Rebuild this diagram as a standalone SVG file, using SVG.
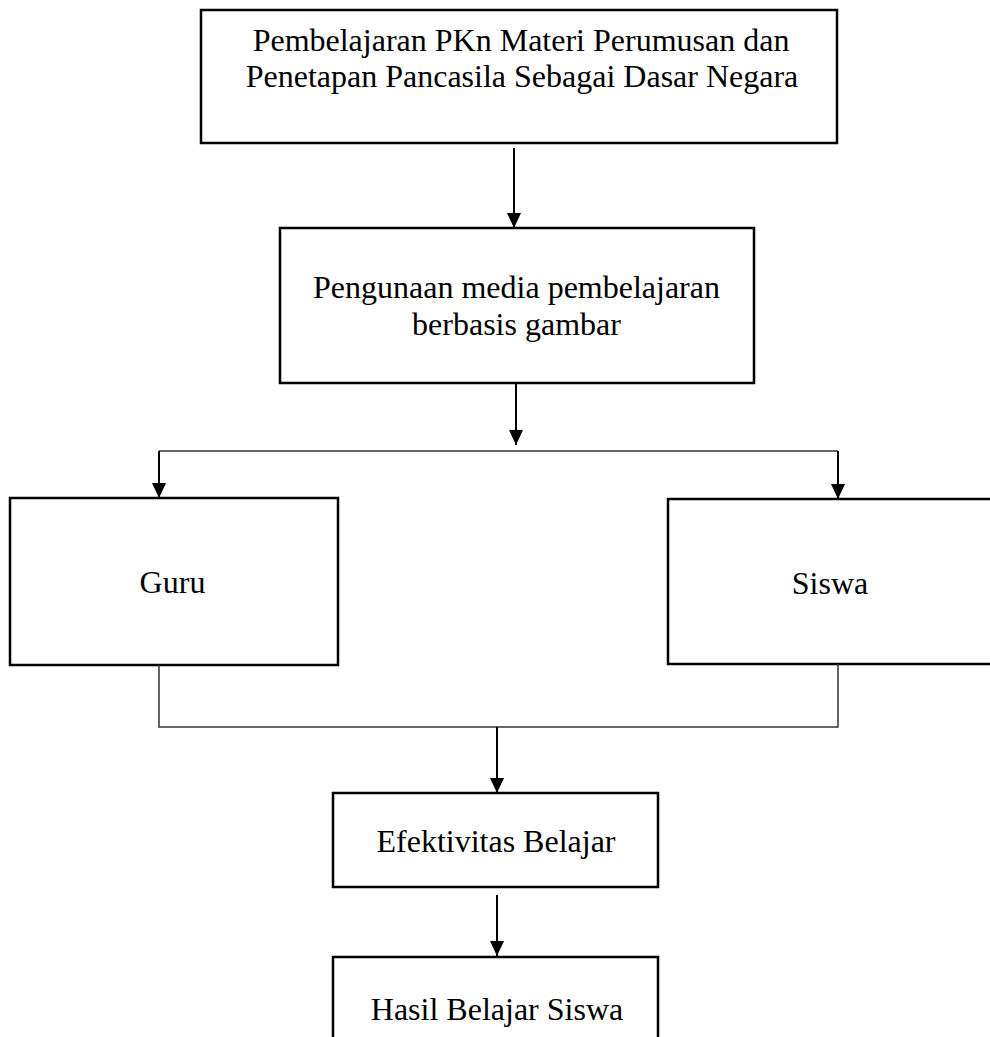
<svg xmlns="http://www.w3.org/2000/svg" width="990" height="1037" viewBox="0 0 990 1037">
  <style>
    .box { fill: #ffffff; stroke: #000000; stroke-width: 2.5; }
    .lbl { font-family: "Liberation Serif", "Times New Roman", serif; font-size: 32px; fill: #000000; text-anchor: middle; }
    .arr { fill: none; stroke: #000000; stroke-width: 2; marker-end: url(#ah); }
    .thin { fill: none; stroke: #333333; stroke-width: 1.5; }
  </style>
  <defs>
    <marker id="ah" markerUnits="userSpaceOnUse" markerWidth="15" markerHeight="14" viewBox="0 0 15 14" refX="15" refY="7" orient="auto">
      <path d="M0,0 L15,7 L0,14 Z" fill="#000000"/>
    </marker>
  </defs>
  <rect width="990" height="1037" fill="#ffffff"/>
  <g id="node-pembelajaran">
    <rect class="box" x="201" y="10" width="636" height="133"/>
    <text class="lbl" x="521" y="51">Pembelajaran PKn Materi Perumusan dan</text>
    <text class="lbl" x="522" y="87">Penetapan Pancasila Sebagai Dasar Negara</text>
  </g>
  <g id="node-media">
    <rect class="box" x="280" y="228" width="474" height="155"/>
    <text class="lbl" x="516.5" y="298">Pengunaan media pembelajaran</text>
    <text class="lbl" x="516.5" y="335">berbasis gambar</text>
  </g>
  <g id="node-guru">
    <rect class="box" x="10" y="498" width="328" height="167"/>
    <text class="lbl" x="172.5" y="593">Guru</text>
  </g>
  <g id="node-siswa">
    <rect class="box" x="668" y="499" width="340" height="165"/>
    <text class="lbl" x="830" y="594">Siswa</text>
  </g>
  <g id="node-efektivitas">
    <rect class="box" x="333" y="793" width="325" height="94"/>
    <text class="lbl" x="496" y="852">Efektivitas Belajar</text>
  </g>
  <g id="node-hasil">
    <rect class="box" x="333" y="957" width="325" height="110"/>
    <text class="lbl" x="497" y="1020">Hasil Belajar Siswa</text>
  </g>
  <g id="connectors">
    <line class="arr" x1="514" y1="148" x2="514" y2="228"/>
    <line class="arr" x1="516" y1="383" x2="516" y2="445"/>
    <line class="thin" x1="159" y1="451" x2="838" y2="451"/>
    <line class="arr" x1="159" y1="451" x2="159" y2="498"/>
    <line class="arr" x1="838" y1="451" x2="838" y2="499"/>
    <polyline class="thin" points="159,665 159,727 838,727 838,664"/>
    <line class="arr" x1="497" y1="727" x2="497" y2="793"/>
    <line class="arr" x1="497" y1="895" x2="497" y2="956"/>
  </g>
</svg>
